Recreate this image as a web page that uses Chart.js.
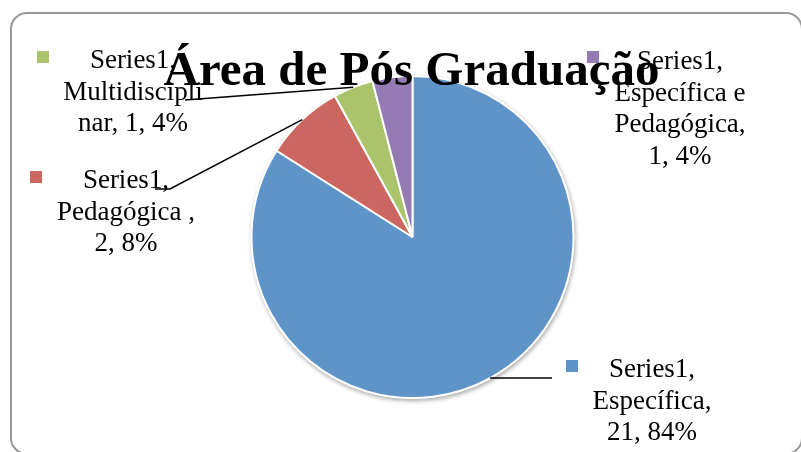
<!DOCTYPE html>
<html>
<head>
<meta charset="utf-8">
<script src="https://cdn.jsdelivr.net/npm/chart.js@4/dist/chart.umd.min.js"></script>
<style>
  html, body { margin: 0; padding: 0; background: #fff; }
  #wrap { width: 801px; height: 452px; position: relative; }
</style>
</head>
<body>
<div id="wrap"><canvas id="graph"></canvas></div>
<script>
// chart data
var chartTitle = "Área de Pós Graduação";
var seriesName = "Series1";
var categories = ["Específica", "Pedagógica ", "Multidisciplinar", "Específica e Pedagógica"];
var values = [21, 2, 1, 1];
var percents = ["84%", "8%", "4%", "4%"];
var colors = ["#5f94c9", "#cc6660", "#a9c46b", "#947bb3"];

// label text, wrapped the way the original wraps it
var labelLines = [
	[seriesName + ",", "Específica,", values[0] + ", " + percents[0]],
	[seriesName + ",", "Pedagógica ,", values[1] + ", " + percents[1]],
	[seriesName + ",", "Multidiscipli", "nar, " + values[2] + ", " + percents[2]],
	[seriesName + ",", "Específica e", "Pedagógica,", values[3] + ", " + percents[3]]
];

// label placement: text center x, first baseline, marker box, leader anchor points
var labelPos = [
	{x: 652, y: 377, mx: 566, my: 360, lead: [[552, null]]},
	{x: 126, y: 188, mx: 30, my: 171, lead: [[155, 189], [170, 189]]},
	{x: 133, y: 68, mx: 37, my: 51, lead: [[185, 100]]},
	{x: 680, y: 69, mx: 587, my: 51, lead: []}
];

var frame = {
	id: "frame",
	beforeDraw: function(chart) {
		var c = chart.ctx;
		c.save();
		c.fillStyle = "#fff";
		c.fillRect(0, 0, chart.width, chart.height);
		c.strokeStyle = "#999";
		c.lineWidth = 2;
		c.beginPath();
		c.roundRect(11, 13, 791, 441, 16);
		c.stroke();
		c.restore();
	},
	beforeDatasetsDraw: function(chart) {
		var arc = chart.getDatasetMeta(0).data[0];
		var c = chart.ctx;
		c.save();
		c.shadowColor = "rgba(0,0,0,0.35)";
		c.shadowBlur = 4;
		c.shadowOffsetX = 1;
		c.shadowOffsetY = 2;
		c.fillStyle = "#fff";
		c.beginPath();
		c.arc(arc.x, arc.y, arc.outerRadius + 1, 0, Math.PI * 2);
		c.fill();
		c.restore();
	},
	afterDatasetsDraw: function(chart) {
		var c = chart.ctx;
		var arcs = chart.getDatasetMeta(0).data;
		c.save();

		// leader lines
		c.strokeStyle = "#000";
		c.lineWidth = 1.5;
		for (var i = 0; i < arcs.length; i++) {
			var lp = labelPos[i];
			if (!lp.lead.length) continue;
			var a = arcs[i];
			var mid = (a.startAngle + a.endAngle) / 2;
			var ex = a.x + Math.cos(mid) * a.outerRadius;
			var ey = a.y + Math.sin(mid) * a.outerRadius;
			c.beginPath();
			c.moveTo(ex, ey);
			for (var k = lp.lead.length - 1; k >= 0; k--) {
				var py = lp.lead[k][1] === null ? ey : lp.lead[k][1];
				c.lineTo(lp.lead[k][0], py);
			}
			c.stroke();
		}

		// markers and labels
		c.font = "27px 'Liberation Serif'";
		c.textAlign = "center";
		c.textBaseline = "alphabetic";
		for (var j = 0; j < labelLines.length; j++) {
			var p = labelPos[j];
			c.fillStyle = colors[j];
			c.fillRect(p.mx, p.my, 12, 12);
			c.fillStyle = "#000";
			for (var n = 0; n < labelLines[j].length; n++) {
				c.fillText(labelLines[j][n], p.x, p.y + n * 31.5);
			}
		}

		// title
		c.font = "bold 49px 'Liberation Serif'";
		c.fillText(chartTitle, 411.5, 85);
		c.restore();
	}
};

var ctx = document.getElementById("graph").getContext("2d");

var chart = new Chart(ctx, {
	type: "pie",
	data: {
		labels: categories,
		datasets: [{
			data: values,
			backgroundColor: colors,
			borderColor: "#fff",
			borderWidth: 2
		}]
	},
	options: {
		responsive: true,
		maintainAspectRatio: false,
		animation: false,
		layout: {
			padding: {left: 250.5, right: 226.5, top: 75, bottom: 53}
		},
		plugins: {
			legend: {display: false},
			tooltip: {enabled: false}
		}
	},
	plugins: [frame]
});
</script>
</body>
</html>
